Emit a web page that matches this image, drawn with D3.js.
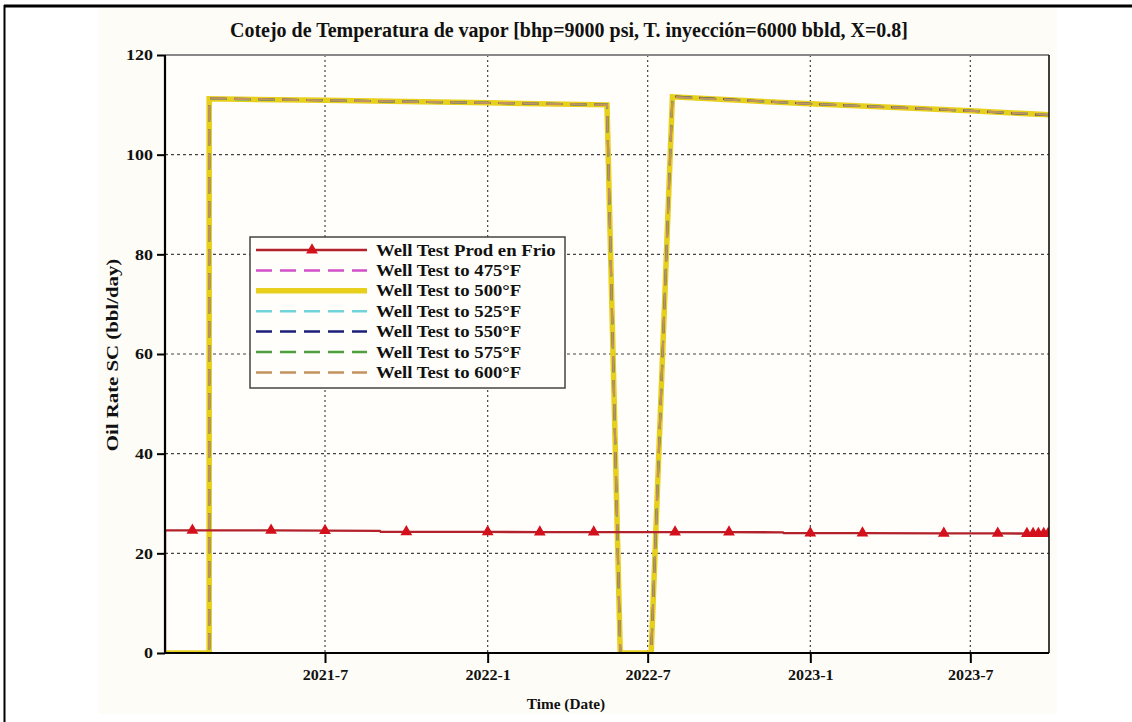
<!DOCTYPE html>
<html>
<head>
<meta charset="utf-8">
<script src="https://cdn.jsdelivr.net/npm/d3@7"></script>
<style>
  html, body { margin: 0; padding: 0; background: #ffffff; }
  svg { display: block; }
  text { font-family: "Liberation Serif", "Times New Roman", serif; font-weight: bold; fill: #111; }
</style>
</head>
<body>
<svg id="chart" width="1132" height="722"></svg>
<script>
// ---- data ----
const yTicks = [0, 20, 40, 60, 80, 100, 120];
const xTickDates = ["2021-07-01", "2022-01-01", "2022-07-01", "2023-01-01", "2023-07-01"];
const xTickLabels = ["2021-7", "2022-1", "2022-7", "2023-1", "2023-7"];

// cold production well test (line)
const coldDates = ["2021-01-01", "2021-01-01", "2021-02-01", "2021-05-01", "2021-07-01", "2021-09-01",
  "2021-09-02", "2021-10-01", "2022-01-01", "2022-03-01", "2022-05-01", "2022-08-01", "2022-10-01",
  "2022-12-01", "2022-12-02", "2023-01-01", "2023-03-01", "2023-06-01", "2023-08-01", "2023-09-28"];
const coldRates = [0, 24.6, 24.6, 24.6, 24.55, 24.5,
  24.3, 24.3, 24.3, 24.25, 24.25, 24.25, 24.25,
  24.2, 24.05, 24.05, 24.05, 24.0, 24.0, 23.95];

// cold production test points (markers)
const testDates = ["2021-02-01", "2021-05-01", "2021-07-01", "2021-10-01", "2022-01-01", "2022-03-01",
  "2022-05-01", "2022-08-01", "2022-10-01", "2023-01-01", "2023-03-01", "2023-06-01", "2023-08-01",
  "2023-09-03", "2023-09-10", "2023-09-16", "2023-09-22", "2023-09-27"];
const testRates = [24.6, 24.6, 24.55, 24.3, 24.3, 24.25,
  24.25, 24.25, 24.25, 24.05, 24.05, 24.0, 24.0,
  23.95, 23.95, 23.95, 23.95, 23.95];

// steam temperature cases
const hotDates = ["2021-01-01", "2021-02-20", "2021-02-20", "2021-07-01", "2022-01-01", "2022-05-16",
  "2022-05-31", "2022-07-05", "2022-07-29", "2023-01-01", "2023-07-01", "2023-09-28"];
const rate475 = [0, 0, 111.3, 110.9, 110.4, 110.0, 0, 0, 111.7, 110.2, 108.8, 107.9];
const rate500 = [0, 0, 111.2, 110.9, 110.4, 110.0, 0, 0, 111.6, 110.2, 108.8, 108.0];
const rate525 = [0, 0, 111.2, 110.9, 110.4, 110.0, 0, 0, 111.6, 110.2, 108.8, 108.0];
const rate550 = [0, 0, 111.3, 110.9, 110.4, 110.0, 0, 0, 111.7, 110.2, 108.8, 107.9];
const rate575 = [0, 0, 111.2, 110.9, 110.4, 110.0, 0, 0, 111.6, 110.2, 108.8, 108.0];
const rate600 = [0, 0, 111.3, 110.9, 110.4, 110.0, 0, 0, 111.6, 110.2, 108.8, 108.0];

const seriesNames = ["Well Test Prod en Frio", "Well Test to 475°F", "Well Test to 500°F",
  "Well Test to 525°F", "Well Test to 550°F", "Well Test to 575°F", "Well Test to 600°F"];

// ---- layout ----
const svg = d3.select("#chart");
const M = { left: 165, right: 1049, top: 55, bottom: 653 };
const parse = d3.timeParse("%Y-%m-%d");

// widen text runs by a factor to get the wide serif look
function stretch(sel, f) {
  sel.each(function () {
    const w = this.getComputedTextLength();
    d3.select(this).attr("textLength", w * f).attr("lengthAdjust", "spacingAndGlyphs");
  });
}

const x = d3.scaleTime()
  .domain([parse("2021-01-01"), parse("2023-09-28")])
  .range([M.left, M.right]);
const y = d3.scaleLinear().domain([0, 120]).range([M.bottom, M.top]);

// outer frame and panel
svg.append("rect").attr("x", 98).attr("y", 8).attr("width", 959).attr("height", 706).attr("fill", "#fefcf6");
svg.append("line").attr("x1", 4).attr("x2", 1132).attr("y1", 6).attr("y2", 6).attr("stroke", "#000").attr("stroke-width", 3);
svg.append("line").attr("x1", 4.5).attr("x2", 4.5).attr("y1", 5).attr("y2", 722).attr("stroke", "#000").attr("stroke-width", 2);

// plot background
svg.append("rect").attr("x", M.left).attr("y", M.top).attr("width", M.right - M.left).attr("height", M.bottom - M.top).attr("fill", "#fffefb");

// title
svg.append("text")
  .attr("x", 569).attr("y", 37)
  .attr("text-anchor", "middle")
  .attr("font-size", 20)
  .attr("textLength", 678).attr("lengthAdjust", "spacingAndGlyphs")
  .text("Cotejo de Temperatura de vapor [bhp=9000 psi, T. inyección=6000 bbld, X=0.8]");

// grid
const grid = svg.append("g");
grid.selectAll("line.h").data(yTicks.filter(d => d > 0 && d < 120)).join("line")
  .attr("x1", M.left).attr("x2", M.right)
  .attr("y1", d => y(d)).attr("y2", d => y(d))
  .attr("stroke", "#444").attr("stroke-width", 1.2).attr("stroke-dasharray", "3,3");
grid.selectAll("line.v").data(xTickDates).join("line")
  .attr("x1", d => x(parse(d))).attr("x2", d => x(parse(d)))
  .attr("y1", M.top).attr("y2", M.bottom)
  .attr("stroke", "#444").attr("stroke-width", 1.2).attr("stroke-dasharray", "2,3");

// clip
svg.append("clipPath").attr("id", "plotclip").append("rect")
  .attr("x", M.left).attr("y", M.top - 4).attr("width", M.right - M.left).attr("height", M.bottom - M.top + 4);

const plot = svg.append("g").attr("clip-path", "url(#plotclip)");
const line = d3.line().x(d => x(d[0])).y(d => y(d[1]));
const zipSeries = (dates, vals) => dates.map((d, i) => [parse(d), vals[i]]);

// steam cases (drawn in order, the last one ends on top)
const hotStyles = [
  { vals: rate475, color: "#d24fc8", width: 2, dash: "16,8" },
  { vals: rate500, color: "#e8cf1c", width: 5.5, dash: null },
  { vals: rate525, color: "#6fd3da", width: 2, dash: "16,8" },
  { vals: rate550, color: "#1c1f7a", width: 2, dash: "16,8" },
  { vals: rate575, color: "#4f9e3e", width: 2, dash: "16,8" },
  { vals: rate600, color: "#c4925e", width: 2.2, dash: "16,8" }
];
hotStyles.forEach((s) => {
  plot.append("path")
    .datum(zipSeries(hotDates, s.vals))
    .attr("d", line)
    .attr("fill", "none")
    .attr("stroke", s.color)
    .attr("stroke-width", s.width)
    .attr("stroke-dasharray", s.dash)
    .attr("stroke-linejoin", "miter");
});

// cold production
plot.append("path")
  .datum(zipSeries(coldDates, coldRates))
  .attr("d", line)
  .attr("fill", "none")
  .attr("stroke", "#b3222a")
  .attr("stroke-width", 2.4);

const tri = d3.symbol().type(d3.symbolTriangle).size(60);
plot.selectAll("path.mk").data(zipSeries(testDates, testRates)).join("path")
  .attr("transform", d => `translate(${x(d[0])},${y(d[1])})`)
  .attr("d", tri)
  .attr("fill", "#d4101c");

// frame of plot area
svg.append("line").attr("x1", M.left).attr("x2", M.right).attr("y1", M.top).attr("y2", M.top).attr("stroke", "#888").attr("stroke-width", 2);
svg.append("line").attr("x1", M.right).attr("x2", M.right).attr("y1", M.top).attr("y2", M.bottom).attr("stroke", "#111").attr("stroke-width", 1.6);

// axes
const yAxis = svg.append("g").attr("transform", `translate(${M.left},0)`)
  .call(d3.axisLeft(y).tickValues(yTicks).tickSize(8).tickPadding(4).tickFormat(d3.format("d")));
const xAxis = svg.append("g").attr("transform", `translate(0,${M.bottom})`)
  .call(d3.axisBottom(x).tickValues(xTickDates.map(parse)).tickSize(10).tickPadding(6)
    .tickFormat((d, i) => xTickLabels[i]));
[yAxis, xAxis].forEach(a => {
  a.select(".domain").attr("stroke", "#000").attr("stroke-width", 2.2);
  a.selectAll(".tick line").attr("stroke", "#000").attr("stroke-width", 2);
  a.selectAll("text").attr("font-size", 15).attr("font-family", "Liberation Serif, serif").attr("font-weight", "bold").attr("fill", "#111");
});
yAxis.select(".domain").attr("d", `M-0,${M.bottom}V${M.top}`);
xAxis.select(".domain").attr("d", `M${M.left},0H${M.right}`);
stretch(yAxis.selectAll("text"), 1.2);
stretch(xAxis.selectAll("text"), 1.07);

// axis titles
const xTitle = svg.append("text").attr("x", 566).attr("y", 709).attr("text-anchor", "middle").attr("font-size", 15).text("Time (Date)");
stretch(xTitle, 1.02);
const yTitle = svg.append("text").attr("transform", "translate(118,355) rotate(-90)").attr("text-anchor", "middle").attr("font-size", 16).text("Oil Rate SC (bbl/day)");
stretch(yTitle, 1.3);

// legend
const lg = svg.append("g");
lg.append("rect").attr("x", 250).attr("y", 237).attr("width", 315).attr("height", 151)
  .attr("fill", "#fffefb").attr("stroke", "#444").attr("stroke-width", 1.5);
const legendStyles = [
  { color: "#b3222a", width: 2.4, dash: null },
  { color: "#d24fc8", width: 2.5, dash: "16,8" },
  { color: "#e8cf1c", width: 5.5, dash: null },
  { color: "#6fd3da", width: 2.5, dash: "16,8" },
  { color: "#1c1f7a", width: 2.5, dash: "16,8" },
  { color: "#4f9e3e", width: 2.5, dash: "16,8" },
  { color: "#c4925e", width: 2.5, dash: "16,8" }
];
const rowY = i => 250 + i * 20.4;
seriesNames.forEach((name, i) => {
  const s = legendStyles[i];
  lg.append("line").attr("x1", 256).attr("x2", 367).attr("y1", rowY(i)).attr("y2", rowY(i))
    .attr("stroke", s.color).attr("stroke-width", s.width).attr("stroke-dasharray", s.dash);
  lg.append("text").attr("class", "lgtext").attr("x", 376).attr("y", rowY(i) + 5.5).attr("font-size", 16).text(name);
});
stretch(lg.selectAll("text.lgtext"), 1.17);
lg.append("path").attr("transform", `translate(312,${rowY(0)})`).attr("d", tri).attr("fill", "#d4101c");
</script>
</body>
</html>
